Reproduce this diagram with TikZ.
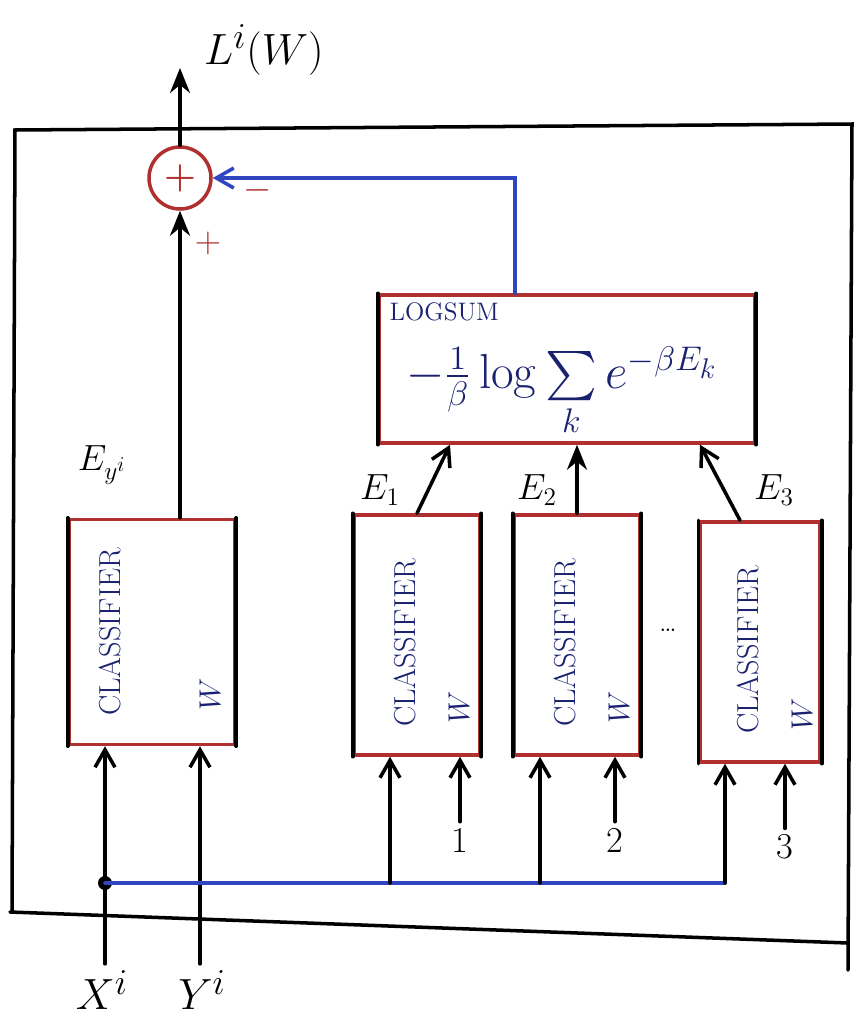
\documentclass[tikz,border=0pt]{standalone}
\usepackage{exscale}
\usetikzlibrary{positioning, calc, arrows.meta}
\definecolor{penred}{HTML}{B03030}
\definecolor{penblue}{HTML}{3045C0}
\definecolor{inkblue}{HTML}{1A2270}
\tikzset{
	pen/.style={
			line width=2pt,
			line cap=round
		},
	clsbox/.style={
			draw=penred,
			pen,
			minimum width=2.5cm,
			minimum height=4.8cm,
			inner sep=0pt
		},
	sumnode/.style={
			circle,
			draw=penred,
			pen,
			minimum size=1.24cm,
			inner sep=0pt,
			text=penred,
			font=\huge\bfseries
		},
	wire/.style={
			pen,
			-{Straight Barb[length=3.5mm,width=4mm]}
		},
	bigwire/.style={
			pen,
			-{Stealth[length=5mm,width=4mm]}
		},
	bluewire/.style={
			pen,
			draw=penblue
		},
	lbl/.style={
			font=\huge
		},
	biglbl/.style={
			font=\fontsize{32}{36}\selectfont
		},
	boxtext/.style={
			text=inkblue,
			font=\LARGE
		},
	signnode/.style={
			text=penred,
			font=\huge\bfseries
		}
}

\begin{document}
\begin{tikzpicture}[x=0.02cm, y=-0.02cm]
\useasboundingbox (0,0) rectangle (865,1022);

% outer frame
\draw[pen] (12,912) -- (15,130) -- (852,124) -- (848,970);
\draw[pen] (10,912) -- (848,943);

% adder and loss
\node[sumnode] (sum) at (180,178) {+};
\coordinate (out) at (180,68);
\node[biglbl, anchor=west] (loss) at (198,50) {$L^i(W)$};
\draw[bigwire] (sum.north) -- (out);
\node[signnode] at (258,190) {$-$};
\node[signnode] at (208,243) {$+$};

% logsum block
\node[clsbox, minimum width=7.5cm, minimum height=2.96cm] (lse) at (567,369) {};
\node[boxtext, font=\Large, anchor=north west, inner sep=2pt] at ($(lse.north west)+(8,6)$) {LOGSUM};
\node[boxtext, font=\huge, anchor=south, inner sep=1pt] at (562,440) {\scalebox{1.35}{$-\frac{1}{\beta}\log\sum\limits_k e^{-\beta E_k}$}};

% classifiers
\node[clsbox, minimum width=3.3cm, minimum height=4.5cm] (clf0) at (152,632) {};
\node[clsbox] (clf1) at (417,635) {};
\node[clsbox] (clf2) at (577,635) {};
\node[clsbox, minimum width=2.4cm] (clf3) at (760,642) {};

\foreach \b in {lse,clf0,clf1,clf2,clf3}
  \draw[pen] (\b.north west) -- (\b.south west) (\b.north east) -- (\b.south east);

\node[boxtext, rotate=90] at ($(clf0.center)+(-42,0)$) {CLASSIFIER};
\node[boxtext, rotate=90] at ($(clf0.center)+(58,62)$) {$W$};
\foreach \b in {clf1,clf2,clf3} {
  \node[boxtext, rotate=90] at ($(\b.center)+(-12,8)$) {CLASSIFIER};
  \node[boxtext, rotate=90] at ($(\b.center)+(42,72)$) {$W$};
}
\node[font=\LARGE] at (668,630) {\dots};

% energies
\node[lbl] at (102,465) {$E_{y^i}$};
\node[lbl] at (380,490) {$E_1$};
\node[lbl] at (537,490) {$E_2$};
\node[lbl] at (774,490) {$E_3$};
\draw[bigwire] (clf0.north -| sum) -- (sum.south);
\draw[wire] (clf1.north) -- ($(lse.south)+(-117,0)$);
\draw[bigwire] (clf2.north) -- (clf2.north |- lse.south);
\draw[wire] ($(clf3.north)+(-20,0)$) -- ($(lse.south)+(133,0)$);

% feedback
\coordinate (fb) at (515,160);
\draw[bluewire, -{Straight Barb[length=3.5mm,width=4mm]}] (lse.north -| fb) |- (sum.east);

% inputs
\node[biglbl] (xi) at (102,990) {$X^i$};
\node[biglbl] (yi) at (202,990) {$Y^i$};
\coordinate (b0) at (105,883);
\coordinate (b1) at (390,883);
\coordinate (b2) at (540,883);
\coordinate (b3) at (725,883);
\draw[wire] (b0 |- xi.north) -- (b0 |- clf0.south);
\draw[wire] (yi.north -| 200,0) -- (200,0 |- clf0.south);
\fill (b0) circle (7);
\draw[bluewire] (b0) -- (b3);
\draw[wire] (b1) -- (b1 |- clf1.south);
\draw[wire] (b2) -- (b2 |- clf2.south);
\draw[wire] (b3) -- (b3 |- clf3.south);

\node[lbl] (n1) at (460,840) {1};
\node[lbl] (n2) at (615,840) {2};
\node[lbl] (n3) at (785,847) {3};
\draw[wire] (n1.north) -- (n1 |- clf1.south);
\draw[wire] (n2.north) -- (n2 |- clf2.south);
\draw[wire] (n3.north) -- (n3 |- clf3.south);
\end{tikzpicture}
\end{document}
